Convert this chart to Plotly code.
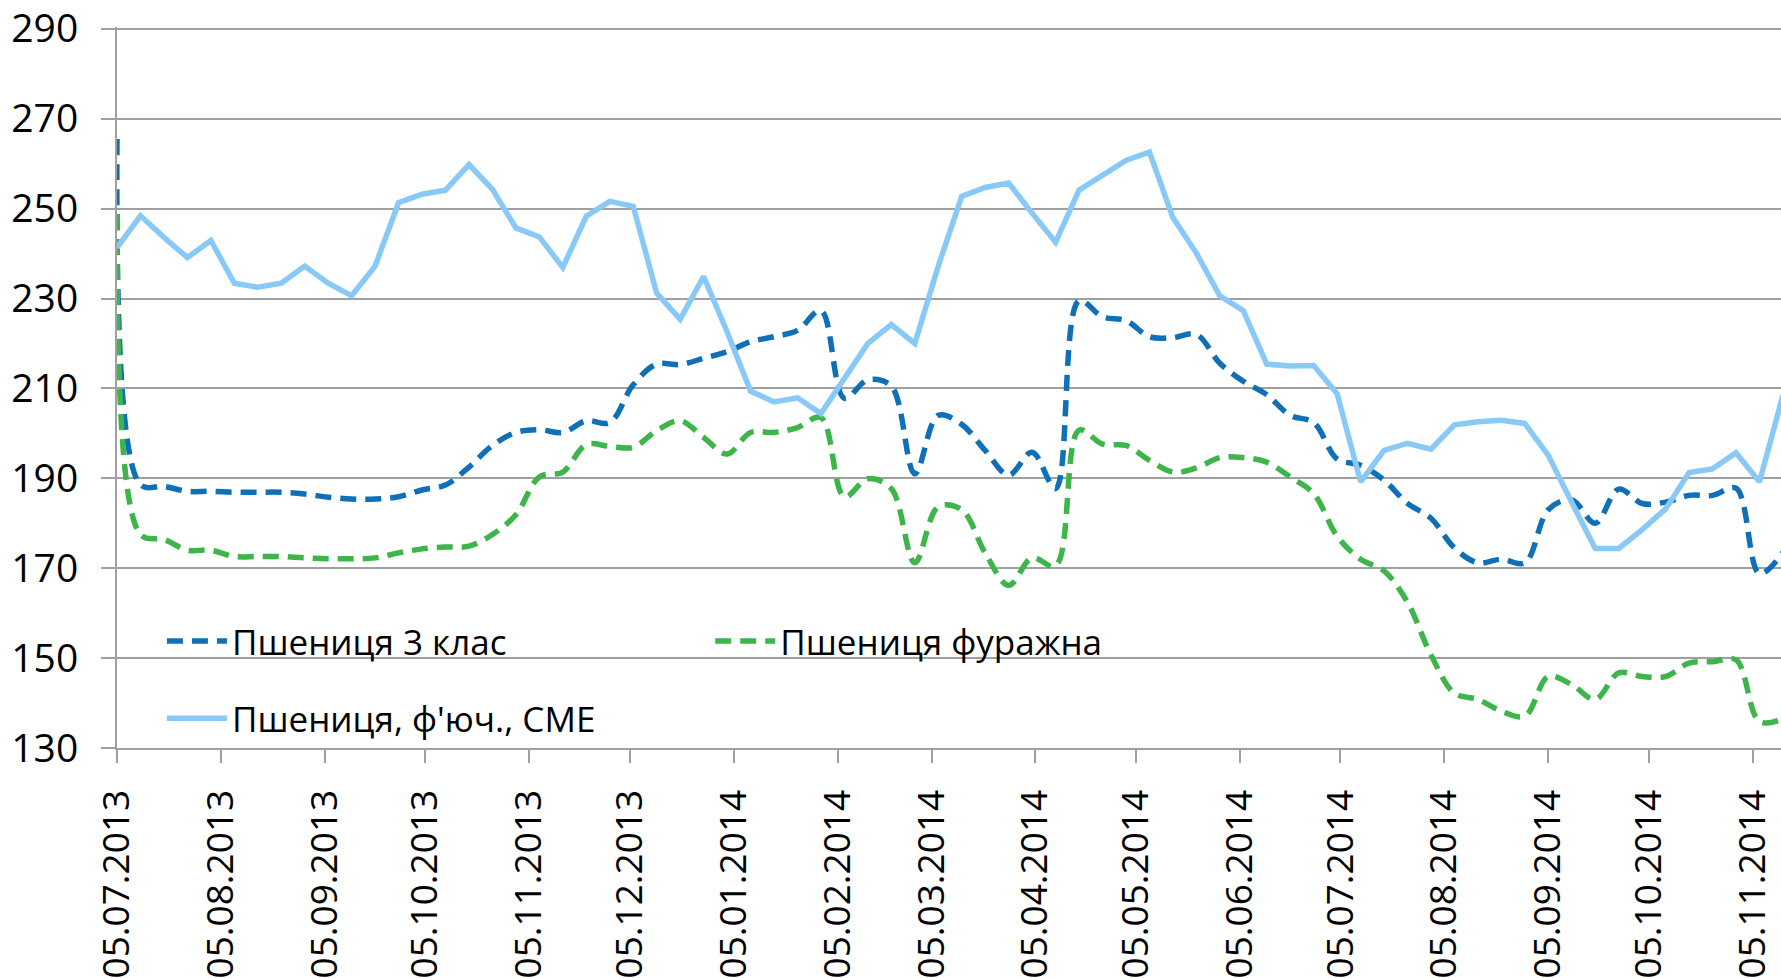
import pandas as pd
import plotly.graph_objects as go

# weekly observations, starting on Friday 05.07.2013
dates = pd.date_range("2013-07-05", periods=72, freq="7D")

wheat_3 = [265.5, 188.6, 188.2, 187.1, 187.1, 186.9, 186.9, 186.9, 186.5, 185.8,
           185.4, 185.4, 185.9, 187.4, 188.5, 192.5, 197.3, 200.2, 200.8, 200.2,
           202.8, 202.4, 210.8, 215.4, 215.3, 216.7, 218.2, 220.4, 221.5, 222.9,
           227.3, 207.8, 211.9, 210.5, 191.0, 204.0, 202.0, 196.2, 190.7, 195.8,
           187.7, 229.5, 225.9, 225.1, 221.5, 221.3, 222.0, 215.6, 211.6, 208.6,
           204.0, 202.4, 194.3, 192.9, 189.6, 184.4, 181.1, 174.5, 171.2, 172.0,
           171.2, 183.0, 185.2, 180.0, 187.6, 184.4, 184.7, 186.2, 186.2, 187.8,
           168.8, 173.5]

wheat_feed = [248.8, 177.5, 176.4, 174.0, 174.0, 172.6, 172.6, 172.6, 172.3, 172.1,
              172.1, 172.3, 173.4, 174.3, 174.7, 174.9, 177.5, 181.9, 190.3, 191.4,
              197.5, 197.1, 196.9, 200.6, 202.8, 199.1, 195.4, 200.2, 200.2, 201.3,
              203.5, 185.9, 189.9, 187.7, 171.2, 183.7, 183.0, 173.4, 166.2, 172.3,
              170.5, 200.7, 197.6, 197.3, 194.0, 191.4, 192.3, 194.6, 194.6, 193.6,
              190.3, 186.6, 177.1, 172.0, 169.4, 162.4, 150.7, 142.2, 140.8, 138.2,
              137.1, 145.9, 144.1, 140.8, 146.7, 145.9, 145.9, 148.9, 149.2, 149.6,
              135.9, 136.5]

wheat_cme = [241.3, 248.4, 243.6, 239.1, 242.9, 233.4, 232.5, 233.4, 237.2, 233.4,
             230.6, 237.2, 251.3, 253.2, 254.1, 259.8, 254.3, 245.7, 243.7, 236.9,
             248.3, 251.6, 250.5, 231.2, 225.4, 234.9, 222.6, 209.4, 207.0, 207.9,
             204.4, 212.3, 220.0, 224.2, 220.0, 237.2, 252.7, 254.7, 255.7, 249.0,
             242.5, 254.1, 257.4, 260.7, 262.6, 248.0, 240.1, 230.6, 227.3, 215.4,
             215.0, 215.1, 208.8, 189.2, 196.2, 197.8, 196.5, 201.9, 202.6, 202.9,
             202.2, 195.1, 184.6, 174.4, 174.4, 178.6, 183.2, 191.3, 192.1, 195.7,
             189.2, 208.5]

names = ["Пшениця 3 клас", "Пшениця фуражна", "Пшениця, ф'юч., CME"]

FONT = "Open Sans"
GRID = "#A0A0A0"

fig = go.Figure()
fig.add_trace(go.Scatter(x=dates, y=wheat_3, name=names[0], mode="lines", legend="legend",
                         line=dict(color="#0F70B7", width=5.5, dash="16px,9px", shape="spline", smoothing=1)))
fig.add_trace(go.Scatter(x=dates, y=wheat_feed, name=names[1], mode="lines", legend="legend2",
                         line=dict(color="#3DB54A", width=5.5, dash="16px,9px", shape="spline", smoothing=1)))
fig.add_trace(go.Scatter(x=dates, y=wheat_cme, name=names[2], mode="lines", legend="legend3",
                         line=dict(color="#88C9F7", width=5.5)))

leg = dict(bgcolor="rgba(0,0,0,0)", font=dict(family=FONT, size=35, color="black"),
           xanchor="left", yanchor="middle", itemwidth=60, visible=True)

fig.update_layout(
    width=1781, height=978,
    margin=dict(l=117, r=0, t=25, b=224),
    paper_bgcolor="white", plot_bgcolor="white",
    showlegend=True,
    legend=dict(leg, x=0.027, y=0.148),
    legend2=dict(leg, x=0.3565, y=0.148),
    legend3=dict(leg, x=0.027, y=0.041),
)
fig.update_yaxes(range=[130, 290.4], dtick=20, tick0=130, showgrid=True, gridcolor=GRID, gridwidth=2,
                 showline=True, linecolor=GRID, linewidth=2, zeroline=False,
                 ticks="outside", ticklen=14, tickcolor=GRID, tickwidth=2, ticklabeloverflow="allow",
                 tickfont=dict(family=FONT, size=39, color="black"), ticklabelstandoff=15)
fig.update_xaxes(type="date", range=["2013-07-05", "2014-11-13 10:00"],
                 dtick="M1", tick0="2013-07-05", tickformat="%d.%m.%Y", tickangle=-90,
                 showgrid=False, showline=True, linecolor=GRID, linewidth=2, zeroline=False,
                 ticks="outside", ticklen=13, tickcolor=GRID, tickwidth=2, ticklabeloverflow="allow",
                 tickfont=dict(family=FONT, size=37, color="black"), ticklabelstandoff=12)

fig.write_html("out.html", config={"displayModeBar": False},
               post_script="document.body.style.margin='0';")
